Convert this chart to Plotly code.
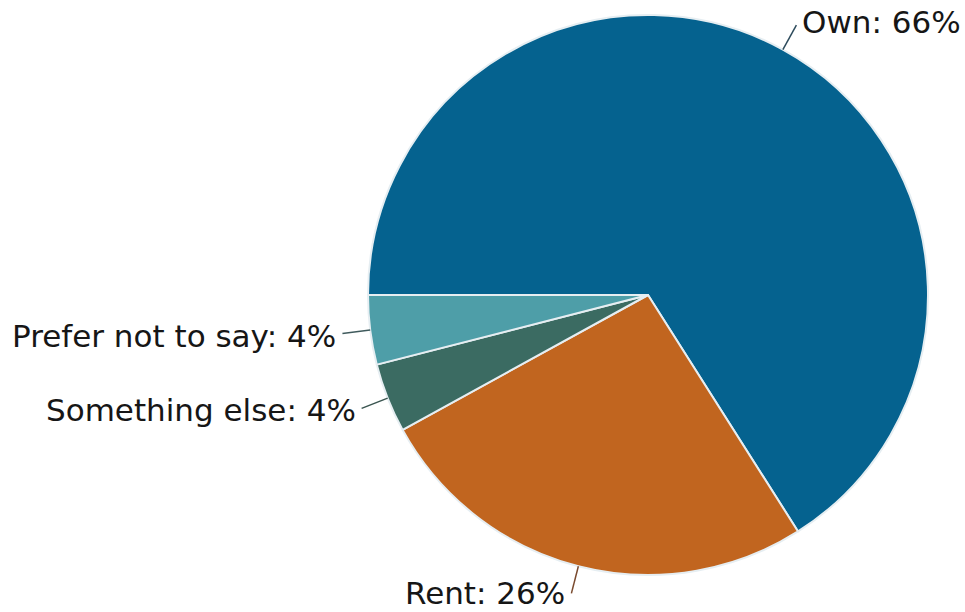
import math
import plotly.graph_objects as go

# Housing tenure shares (percent)
labels = ["Own", "Rent", "Something else", "Prefer not to say"]
values = [66, 26, 4, 4]
colors = ["#05628f", "#c1651f", "#3b6b62", "#4e9ea8"]
leader_colors = ["#2d4b5c", "#7a4a2e", "#3a5550", "#3f5a5c"]

W, H = 965, 612
cx, cy, R = 648, 295, 280  # pie centre and radius in pixels
FONT_SIZE = 31

fig = go.Figure(
    go.Pie(
        labels=labels,
        values=values,
        sort=False,
        direction="clockwise",
        rotation=270,
        textinfo="none",
        hoverinfo="label+percent",
        marker=dict(colors=colors, line=dict(color="#e6eef2", width=2)),
        domain=dict(x=[(cx - R) / W, (cx + R) / W],
                    y=[(H - cy - R) / H, (H - cy + R) / H]),
        showlegend=False,
    )
)

# Outside labels with short leader lines at each slice's mid-angle
total = sum(values)
start = 270.0
shapes, annotations = [], []
for lab, val, lc in zip(labels, values, leader_colors):
    span = 360.0 * val / total
    mid = math.radians(start + span / 2)
    start += span
    sx, sy = math.sin(mid), math.cos(mid)
    x0, y0 = cx + R * sx, cy - R * sy
    x1, y1 = cx + 1.1 * R * sx, cy - 1.1 * R * sy
    shapes.append(dict(type="line", xref="paper", yref="paper",
                       x0=x0 / W, y0=1 - y0 / H, x1=x1 / W, y1=1 - y1 / H,
                       line=dict(color=lc, width=1.5)))
    right = sx >= 0
    ty = y1 - 3 if sy > 0 else y1 + 2
    half = FONT_SIZE * 0.6
    ty = min(max(ty, half), H - half)  # keep the text box inside the page
    annotations.append(dict(
        xref="paper", yref="paper",
        x=(x1 + (4 if right else -4)) / W, y=1 - ty / H,
        xanchor="left" if right else "right", yanchor="middle",
        text=f"{lab}: {val}%", showarrow=False,
        font=dict(family="DejaVu Sans, sans-serif", size=FONT_SIZE,
                  color="#161616"),
    ))

fig.update_layout(
    width=W, height=H,
    margin=dict(l=0, r=0, t=0, b=0),
    paper_bgcolor="white", plot_bgcolor="white",
    shapes=shapes, annotations=annotations,
)

fig.write_html("out.html")
